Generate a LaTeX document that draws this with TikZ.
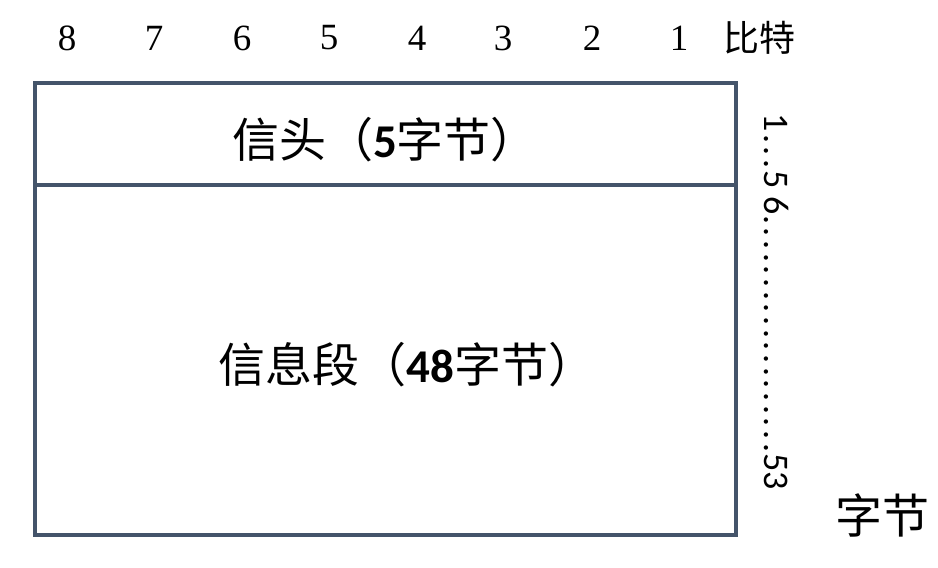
\documentclass[tikz,border=0pt]{standalone}
\usepackage{fontspec}
\setmainfont{Liberation Serif}
\newfontfamily\cjk{Noto Sans CJK SC}
\newfontfamily\calfont{Carlito}
\definecolor{framecol}{HTML}{44546A}
\newcommand\sdt{.\kern3.6pt}
\tikzset{
  boxpart/.style={draw=framecol, line width=3.5pt, rectangle, inner sep=0pt, outer sep=0pt, anchor=north west},
  bitnum/.style={font=\fontsize{37}{40}\selectfont, inner sep=0pt},
  bigtxt/.style={font=\fontsize{47}{52}\selectfont\cjk, inner sep=0pt},
  sidetxt/.style={font=\fontsize{36}{38}\selectfont\calfont, inner sep=0pt, rotate=-90}
}
\begin{document}
\begin{tikzpicture}[x=1pt,y=-1pt]
\useasboundingbox (0,0) rectangle (938,568);
\node[boxpart, minimum width=701pt, minimum height=102pt] (head) at (35,83) {};
\node[boxpart, minimum width=701pt, minimum height=350pt] (body) at (35,185) {};
\node[bigtxt] (headtxt) at (385,140) {信头（{\calfont\bfseries 5}字节）};
\node[bigtxt] (bodytxt) at (407,365) {信息段（{\calfont\bfseries 48}字节）};
\foreach \n/\x in {8/67,7/154,6/242,5/329,4/417,3/503,2/592,1/679}
  \node[bitnum] (b\n) at (\x,38) {\n};
\node[font=\fontsize{36}{40}\selectfont\cjk, inner sep=0pt] (bits) at (759,38) {比特};
\node[sidetxt] (side) at (777,302) {1\kern2pt\sdt\sdt.\kern2pt5\kern8pt6\sdt\sdt\sdt\sdt\sdt\sdt\sdt\sdt\sdt\sdt\sdt\sdt\sdt\sdt\sdt\sdt\sdt\sdt.\kern1pt53};
\node[bigtxt] (bytes) at (882,515) {字节};
\end{tikzpicture}
\end{document}
